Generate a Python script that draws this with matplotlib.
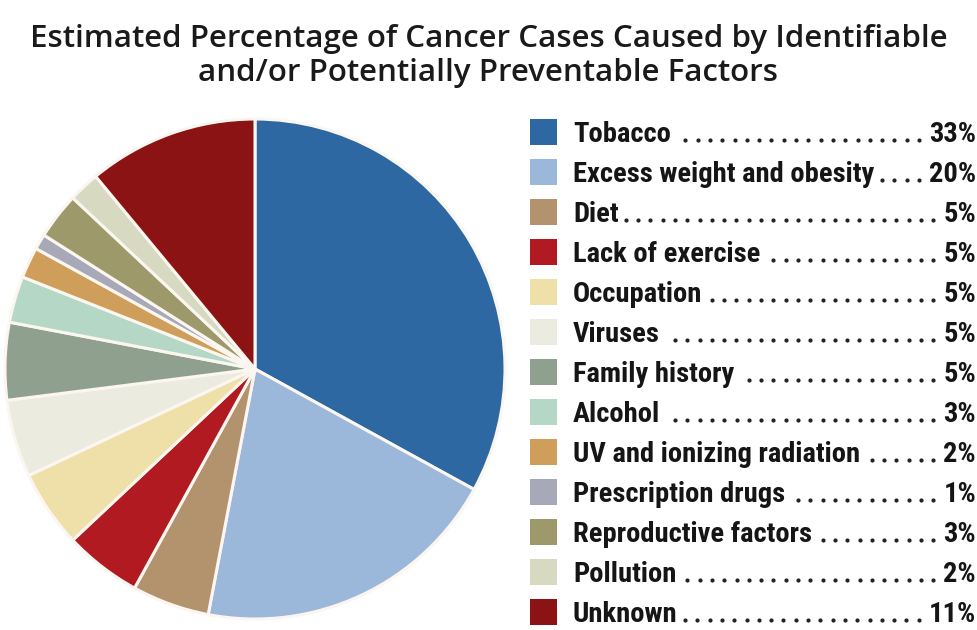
import matplotlib
matplotlib.use("Agg")
import matplotlib.pyplot as plt
import numpy as np
from matplotlib.patches import Rectangle
from matplotlib.lines import Line2D

W, H = 977, 630

labels = ['Tobacco', 'Excess weight and obesity', 'Diet', 'Lack of exercise',
          'Occupation', 'Viruses', 'Family history', 'Alcohol',
          'UV and ionizing radiation', 'Prescription drugs',
          'Reproductive factors', 'Pollution', 'Unknown']
values = [33, 20, 5, 5, 5, 5, 5, 3, 2, 1, 3, 2, 11]
colors = ['#2d68a2', '#9bb7da', '#b3926e', '#b01a20', '#efdfa8', '#ecebdf',
          '#8fa08f', '#b5d8c6', '#cf9e5a', '#a7a9b9', '#9d996b', '#d7d9c0',
          '#8b1313']

title = ('Estimated Percentage of Cancer Cases Caused by Identifiable\n'
         'and/or Potentially Preventable Factors')


def fx(x):
    return x / W


def fy(y):
    return 1 - y / H


fig = plt.figure(figsize=(W / 100, H / 100), dpi=100)

# pie: centre (255, 369) px, radius 250 px, left edge clipped at x=9
R = 250.0
cx, cy = 255.0, 369.0
left, right, top, bottom = 9, 520, 0, 630
ax = fig.add_axes([fx(left), 1 - bottom / H, (right - left) / W, (bottom - top) / H])
ax.pie(values, colors=colors, startangle=90, counterclock=False,
       wedgeprops=dict(edgecolor='#fbf6ef', linewidth=2.2))
ax.set_xlim(-(cx - left) / R, (right - cx) / R)
ax.set_ylim(-(bottom - cy) / R, (cy - top) / R)
ax.set_aspect('auto')
ax.axis('off')

fig.text(0.5, fy(56), title, ha='center', va='center', fontsize=22.5,
         family='Open Sans', fontweight=600, color='#1a1a1a',
         linespacing=1.15)

# legend with leader dots
row0, step = 132, 40
txt_x, val_x = 573, 976
fs = 20.5
fam = ['Roboto Condensed', 'Barlow Semi Condensed', 'PT Sans Narrow']
renderer = fig.canvas.get_renderer()
for i, (lab, val, col) in enumerate(zip(labels, values, colors)):
    yc = row0 + step * i
    fig.patches.append(Rectangle((fx(530), fy(yc + 13)), 27 / W, 26 / H,
                                 transform=fig.transFigure, facecolor=col,
                                 edgecolor='none'))
    t1 = fig.text(fx(txt_x), fy(yc + 10), lab, ha='left', va='baseline',
                  fontsize=fs, family=fam, fontweight='bold', color='#151515')
    t2 = fig.text(fx(val_x), fy(yc + 10), f'{val}%', ha='right', va='baseline',
                  fontsize=fs, family=fam, fontweight='bold', color='#151515')
    x0 = t1.get_window_extent(renderer).x1 + 7
    x1 = t2.get_window_extent(renderer).x0 - 10
    dots = np.arange(x1, x0, -12.3)
    if len(dots):
        fig.lines.append(Line2D(dots / W, np.full(len(dots), fy(yc + 8)),
                                transform=fig.transFigure, linestyle='none',
                                marker='o', markersize=3.0, color='#222222',
                                markeredgewidth=0))

fig.savefig('out.png', dpi=100, facecolor='white')
